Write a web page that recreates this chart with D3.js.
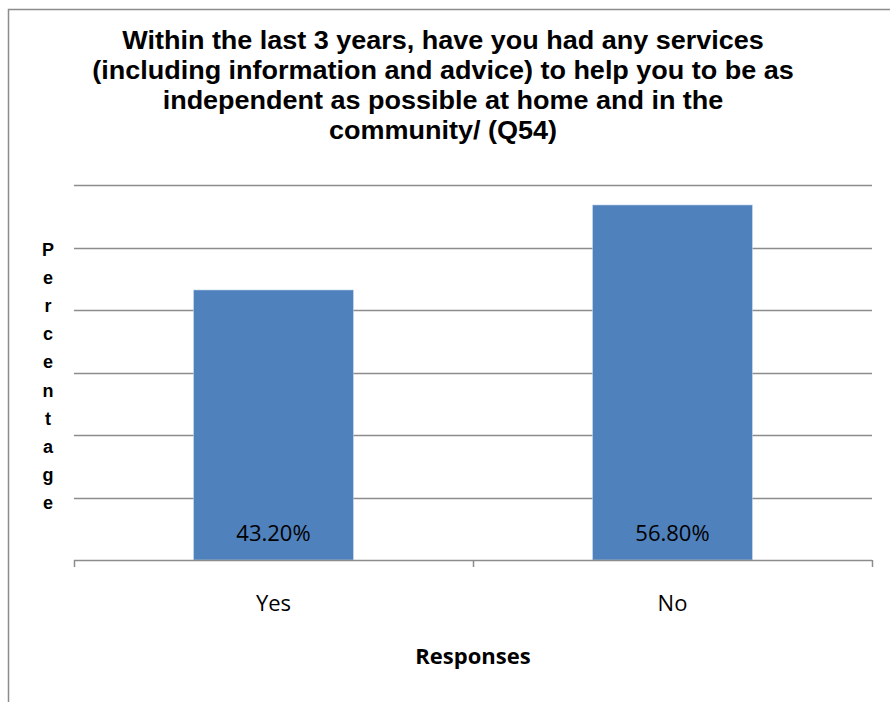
<!DOCTYPE html>
<html>
<head>
<meta charset="utf-8">
<script src="https://cdn.jsdelivr.net/npm/d3@7"></script>
<style>
  html, body { margin: 0; padding: 0; background: #fff; }
  svg { display: block; }
</style>
</head>
<body>
<svg id="chart" width="890" height="702"></svg>
<script>
// Survey responses, Q54
const categories = ["Yes", "No"];
const values = [43.2, 56.8];
const valueLabels = ["43.20%", "56.80%"];
const yTicks = [0, 10, 20, 30, 40, 50, 60];
const titleLines = [
  "Within the last 3 years, have you had any services",
  "(including information and advice) to help you to be as",
  "independent as possible at home and in the",
  "community/ (Q54)"
];
const yTitle = "Percentage";
const xTitle = "Responses";

const svg = d3.select("#chart");

// outer chart frame (continues past the right and bottom edges)
svg.append("rect")
  .attr("x", 8.5).attr("y", 9.5)
  .attr("width", 900).attr("height", 720)
  .attr("fill", "#fff")
  .attr("stroke", "#8c8c8c")
  .attr("stroke-width", 1.5);

const plot = { left: 74, right: 872, top: 185, bottom: 560 };

const x = d3.scaleBand()
  .domain(categories)
  .range([plot.left, plot.right])
  .paddingInner(0)
  .paddingOuter(0);

const y = d3.scaleLinear()
  .domain([0, 60])
  .range([plot.bottom, plot.top]);

// horizontal gridlines
svg.append("g")
  .selectAll("line")
  .data(yTicks.filter(d => d > 0))
  .join("line")
  .attr("x1", plot.left).attr("x2", plot.right)
  .attr("y1", d => Math.round(y(d)) + 0.5)
  .attr("y2", d => Math.round(y(d)) + 0.5)
  .attr("stroke", "#8c8c8c")
  .attr("stroke-width", 1.5);

// bars
const barW = x.bandwidth() * 0.4;
svg.append("g")
  .selectAll("rect")
  .data(categories)
  .join("rect")
  .attr("x", (d) => x(d) + (x.bandwidth() - barW) / 2)
  .attr("y", (d, i) => y(values[i]))
  .attr("width", barW)
  .attr("height", (d, i) => y(0) - y(values[i]))
  .attr("fill", "#4f81bd")
  .attr("stroke", "#b9cde5")
  .attr("stroke-width", 0.6);

// category axis with tick marks between categories
const xAxis = svg.append("g");
xAxis.append("line")
  .attr("x1", plot.left).attr("x2", plot.right)
  .attr("y1", plot.bottom + 0.5).attr("y2", plot.bottom + 0.5)
  .attr("stroke", "#8c8c8c").attr("stroke-width", 1.5);
const edges = categories.map(c => x(c)).concat([x(categories[categories.length - 1]) + x.bandwidth()]);
xAxis.selectAll("line.tick")
  .data(edges)
  .join("line")
  .attr("class", "tick")
  .attr("x1", d => Math.round(d) + 0.5).attr("x2", d => Math.round(d) + 0.5)
  .attr("y1", plot.bottom).attr("y2", plot.bottom + 7)
  .attr("stroke", "#8c8c8c").attr("stroke-width", 1.5);

xAxis.selectAll("text.cat")
  .data(categories)
  .join("text")
  .attr("class", "cat")
  .attr("x", d => x(d) + x.bandwidth() / 2)
  .attr("y", 611)
  .attr("text-anchor", "middle")
  .attr("font-family", "'Open Sans', sans-serif")
  .attr("font-size", 22)
  .attr("fill", "#000")
  .text(d => d);

// value labels inside bars
svg.append("g")
  .selectAll("text")
  .data(categories)
  .join("text")
  .attr("x", d => x(d) + x.bandwidth() / 2)
  .attr("y", 541)
  .attr("text-anchor", "middle")
  .attr("font-family", "'Open Sans', sans-serif")
  .attr("font-size", 22)
  .attr("fill", "#000")
  .text((d, i) => valueLabels[i]);

// title, slightly widened
const titleX = 443;
svg.append("g")
  .attr("transform", `translate(${titleX},0) scale(1.08,1)`)
  .selectAll("text")
  .data(titleLines)
  .join("text")
  .attr("x", 0)
  .attr("y", (d, i) => 49 + i * 30)
  .attr("text-anchor", "middle")
  .attr("font-family", "'Liberation Sans', Arial, sans-serif")
  .attr("font-weight", "bold")
  .attr("font-size", 25)
  .attr("fill", "#000")
  .text(d => d);

// vertical axis title, one letter per row
svg.append("g")
  .selectAll("text")
  .data(yTitle.split(""))
  .join("text")
  .attr("x", 48)
  .attr("y", (d, i) => 256 + i * 28.1)
  .attr("text-anchor", "middle")
  .attr("font-family", "'Liberation Sans', Arial, sans-serif")
  .attr("font-weight", "bold")
  .attr("font-size", 18)
  .attr("fill", "#000")
  .text(d => d);

// horizontal axis title
svg.append("text")
  .attr("x", 473)
  .attr("y", 664)
  .attr("text-anchor", "middle")
  .attr("font-family", "'Open Sans', sans-serif")
  .attr("font-weight", "bold")
  .attr("font-size", 22)
  .attr("fill", "#000")
  .text(xTitle);
</script>
</body>
</html>
